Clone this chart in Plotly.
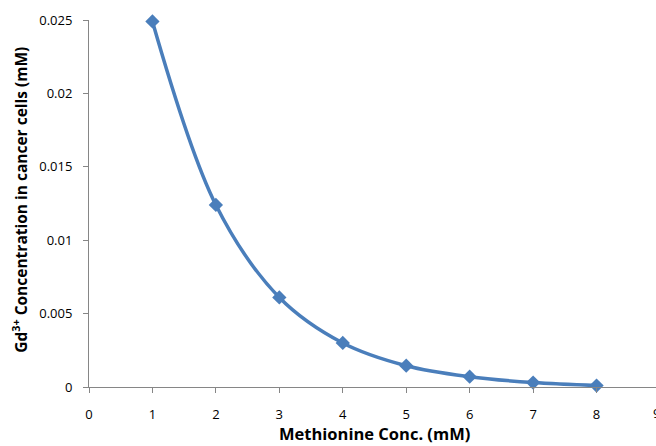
import plotly.graph_objects as go

x_vals = [1, 2, 3, 4, 5, 6, 7, 8]
y_vals = [0.0249, 0.0124, 0.0061, 0.0030, 0.00145, 0.0007, 0.0003, 0.0001]
x_ticks = [0, 1, 2, 3, 4, 5, 6, 7, 8]
y_ticks = [0, 0.005, 0.01, 0.015, 0.02, 0.025]
y_tick_text = ["0", "0.005", "0.01", "0.015", "0.02", "0.025"]
x_title = "<b>Methionine Conc. (mM)</b>"
y_title = "<b>Gd<sup>3+</sup> Concentration in cancer cells (mM)</b>"
X_MAX = 8.937

FONT = "Open Sans, Lato, sans-serif"
AX = "#868686"

fig = go.Figure()
fig.add_trace(go.Scatter(
    x=x_vals, y=y_vals, mode="lines+markers",
    line=dict(color="#4A7EBB", width=3.5, shape="spline", smoothing=1),
    marker=dict(symbol="diamond", size=11, color="#4A7EBB"),
    cliponaxis=False,
))

fig.update_layout(
    width=656, height=446,
    margin=dict(l=89, r=0, t=20, b=59),
    paper_bgcolor="white", plot_bgcolor="white",
    showlegend=False,
    font=dict(family=FONT, size=13, color="#000"),
)
fig.update_xaxes(
    range=[0, X_MAX], tickvals=x_ticks, showgrid=False, zeroline=False,
    showline=True, linecolor=AX, linewidth=1, automargin=False,
    ticks="outside", ticklen=5, tickcolor=AX, tickfont=dict(size=13),
    ticklabelstandoff=10,
)
fig.update_yaxes(
    range=[0, 0.025], tickvals=y_ticks, ticktext=y_tick_text,
    showgrid=False, zeroline=False, automargin=False,
    showline=True, linecolor=AX, linewidth=1,
    ticks="outside", ticklen=5, tickcolor=AX, tickfont=dict(size=13),
    ticklabelstandoff=8,
)
fig.add_annotation(x=0.504, y=0, xref="paper", yref="paper", text=x_title,
                   showarrow=False, yanchor="middle", yshift=-46,
                   font=dict(size=16.5))
fig.add_annotation(x=0, y=0.51, xref="paper", yref="paper", text=y_title,
                   showarrow=False, xanchor="center", yanchor="middle",
                   textangle=-90, xshift=-69, font=dict(size=15.5))
fig.add_annotation(x=9 / X_MAX, y=0, xref="paper", yref="paper", text="9",
                   showarrow=False, xanchor="center", yanchor="middle",
                   yshift=-26, xshift=-3, font=dict(size=13))

fig.write_html("out.html", config={"displayModeBar": False},
               post_script="document.body.style.margin='0';")
